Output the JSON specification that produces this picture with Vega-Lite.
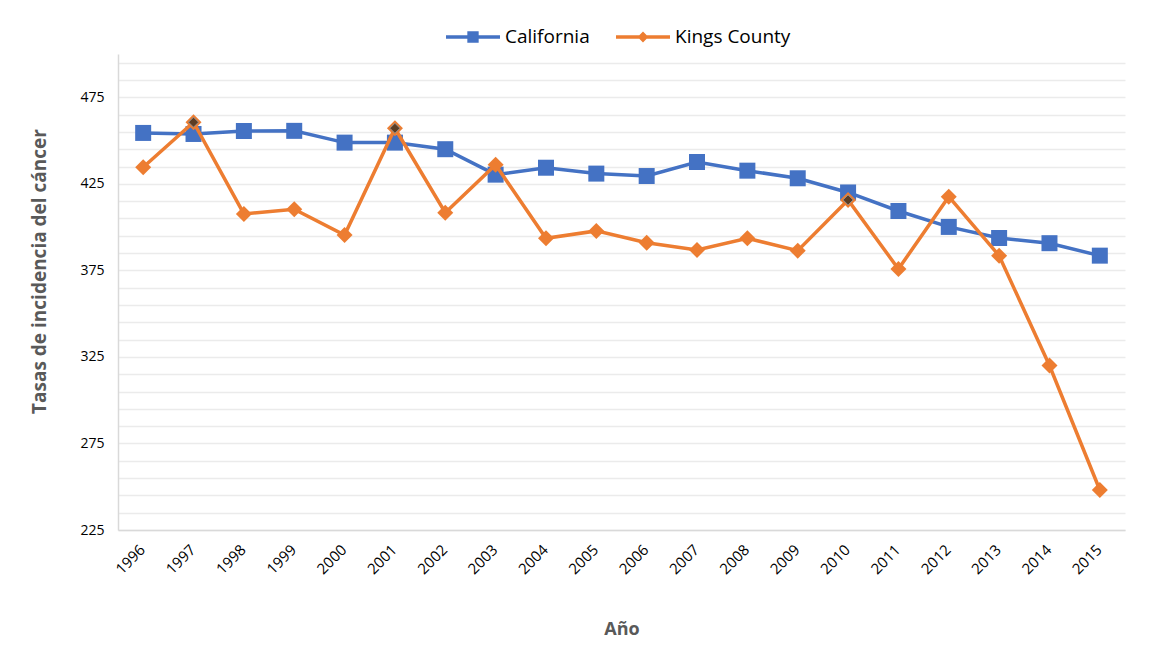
{
  "$schema": "https://vega.github.io/schema/vega-lite/v6.json",
  "width": 1007,
  "height": 476,
  "autosize": {"type": "none"},
  "padding": {"left": 118, "top": 54, "right": 25, "bottom": 134},
  "background": "white",
  "config": {"view": {"stroke": null}, "font": "Open Sans"},
  "data": {"values": [
    {"year": 1996, "serie": "California", "value": 454.4},
    {"year": 1997, "serie": "California", "value": 453.8},
    {"year": 1998, "serie": "California", "value": 455.5},
    {"year": 1999, "serie": "California", "value": 455.6},
    {"year": 2000, "serie": "California", "value": 448.8},
    {"year": 2001, "serie": "California", "value": 448.8},
    {"year": 2002, "serie": "California", "value": 445.0},
    {"year": 2003, "serie": "California", "value": 430.3},
    {"year": 2004, "serie": "California", "value": 434.3},
    {"year": 2005, "serie": "California", "value": 430.9},
    {"year": 2006, "serie": "California", "value": 429.5},
    {"year": 2007, "serie": "California", "value": 437.6},
    {"year": 2008, "serie": "California", "value": 432.6},
    {"year": 2009, "serie": "California", "value": 428.2},
    {"year": 2010, "serie": "California", "value": 420.0},
    {"year": 2011, "serie": "California", "value": 409.3},
    {"year": 2012, "serie": "California", "value": 400.1},
    {"year": 2013, "serie": "California", "value": 393.7},
    {"year": 2014, "serie": "California", "value": 390.7},
    {"year": 2015, "serie": "California", "value": 383.5},
    {"year": 1996, "serie": "Kings County", "value": 434.6},
    {"year": 1997, "serie": "Kings County", "value": 460.6},
    {"year": 1998, "serie": "Kings County", "value": 407.6},
    {"year": 1999, "serie": "Kings County", "value": 410.3},
    {"year": 2000, "serie": "Kings County", "value": 395.4},
    {"year": 2001, "serie": "Kings County", "value": 457.1},
    {"year": 2002, "serie": "Kings County", "value": 408.3},
    {"year": 2003, "serie": "Kings County", "value": 436.0},
    {"year": 2004, "serie": "Kings County", "value": 393.5},
    {"year": 2005, "serie": "Kings County", "value": 397.8},
    {"year": 2006, "serie": "Kings County", "value": 391.0},
    {"year": 2007, "serie": "Kings County", "value": 386.8},
    {"year": 2008, "serie": "Kings County", "value": 393.5},
    {"year": 2009, "serie": "Kings County", "value": 386.4},
    {"year": 2010, "serie": "Kings County", "value": 415.7},
    {"year": 2011, "serie": "Kings County", "value": 375.8},
    {"year": 2012, "serie": "Kings County", "value": 417.6},
    {"year": 2013, "serie": "Kings County", "value": 383.5},
    {"year": 2014, "serie": "Kings County", "value": 320.0},
    {"year": 2015, "serie": "Kings County", "value": 248.1}
  ]},
  "encoding": {
    "x": {
      "field": "year", "type": "ordinal",
      "axis": {
        "title": "Año", "titleFont": "Open Sans", "titleFontSize": 18, "titleFontWeight": "bold", "titleColor": "#595959", "titlePadding": 44,
        "labelAngle": -45, "labelFontSize": 15, "labelColor": "#000000", "labelPadding": 12, "labelOffset": -6,
        "ticks": false, "domainColor": "#d9d9d9", "domainWidth": 1.5, "grid": false
      }
    },
    "y": {
      "field": "value", "type": "quantitative",
      "scale": {"domain": [225, 500], "nice": false, "zero": false},
      "axis": {
        "title": "Tasas de incidencia del cáncer", "titleFontSize": 19, "titleFontWeight": "bold", "titleColor": "#595959", "titlePadding": 30, "titleY": 217,
        "values": [225, 235, 245, 255, 265, 275, 285, 295, 305, 315, 325, 335, 345, 355, 365, 375, 385, 395, 405, 415, 425, 435, 445, 455, 465, 475, 485, 495],
        "labelExpr": "(datum.value - 225) % 50 === 0 ? datum.label : ''",
        "labelFontSize": 14, "labelColor": "#000000", "labelPadding": 14,
        "ticks": false, "domainColor": "#d9d9d9", "domainWidth": 1.5,
        "grid": true, "gridColor": "#ebebeb", "gridWidth": 1.5
      }
    },
    "color": {
      "field": "serie", "type": "nominal",
      "scale": {"domain": ["California", "Kings County"], "range": ["#4472C4", "#ED7D31"]},
      "legend": {
        "title": null, "orient": "none", "legendX": 328, "legendY": -44, "direction": "horizontal",
        "symbolSize": 2916, "symbolStrokeWidth": 0, "labelFontSize": 19, "labelColor": "#000000",
        "labelOffset": 5, "columnPadding": 26,
        "encode": {"symbols": {"update": {
          "shape": {"signal": "datum.value === 'California' ? 'M-1,-0.065H1V0.065H-1Z M-0.21,-0.21H0.21V0.21H-0.21Z' : 'M-1,-0.065H1V0.065H-1Z M0,-0.2L0.2,0L0,0.2L-0.2,0Z'"},
          "fill": {"signal": "scale('color', datum.value)"},
          "stroke": {"value": "transparent"},
          "strokeWidth": {"value": 0},
          "opacity": {"value": 1}
        }}}
      }
    }
  },
  "layer": [
    {
      "transform": [{"filter": "datum.serie === 'California'"}],
      "mark": {"type": "line", "strokeWidth": 3.5}
    },
    {
      "transform": [{"filter": "datum.serie === 'California'"}],
      "mark": {"type": "point", "filled": true, "opacity": 1, "shape": "square", "size": 256}
    },
    {
      "transform": [{"filter": "datum.serie === 'Kings County'"}],
      "mark": {"type": "line", "strokeWidth": 3.5}
    },
    {
      "transform": [{"filter": "datum.serie === 'Kings County'"}],
      "mark": {"type": "point", "filled": true, "opacity": 1, "shape": "diamond", "size": 256}
    },
    {
      "transform": [{"filter": "datum.serie === 'Kings County' && (datum.year === 1997 || datum.year === 2001 || datum.year === 2010)"}],
      "mark": {"type": "point", "filled": true, "opacity": 1, "shape": "diamond", "size": 100, "stroke": "#8f8f8f", "strokeWidth": 1},
      "encoding": {"color": {"value": "#5c3d24"}}
    }
  ]
}
